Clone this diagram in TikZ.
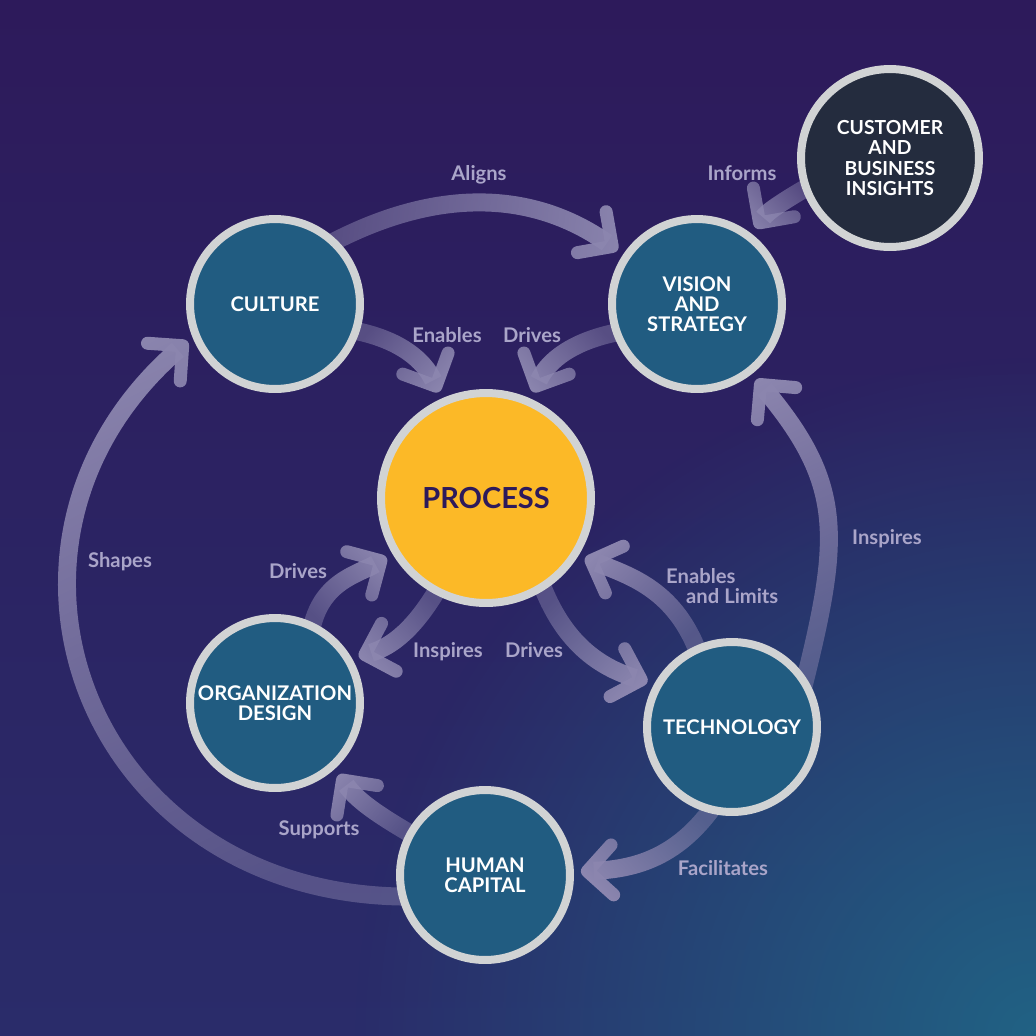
\documentclass[tikz,border=0pt]{standalone}
\usepackage{fontspec}
\setmainfont{Lato}
\usetikzlibrary{arrows.meta,fadings}
\definecolor{bgpurple}{RGB}{45,26,91}
\definecolor{bglow}{RGB}{42,44,106}
\definecolor{bgteal}{RGB}{33,98,132}
\definecolor{disc}{RGB}{33,92,129}
\definecolor{ring}{RGB}{209,211,212}
\definecolor{darkdisc}{RGB}{36,44,62}
\definecolor{gold}{RGB}{252,185,39}
\definecolor{flow}{RGB}{140,134,175}
\definecolor{flowtext}{RGB}{170,165,201}
\pgfdeclarelayer{bg}
\pgfdeclarelayer{links}
\pgfsetlayers{bg,links,main}
\tikzfading[name=tailfade, left color=transparent!55, right color=transparent!0]
\tikzfading[name=cornerfade, inner color=transparent!0, outer color=transparent!100]
\tikzset{
  topic/.style={shape=circle, minimum size=3.4cm, inner sep=0pt, fill=disc, draw=ring, line width=0.16cm, text=white, align=center, font=\bfseries\fontsize{11.5}{11.4}\selectfont},
  flowarrow/.style={draw=flow, line width=0.36cm, shorten <=-0.2cm, shorten >=0.14cm, path fading=tailfade, fading angle=#1, -{Straight Barb[length=0.5cm, width=1cm, line width=0.26cm, round]}},
  flowlabel/.style={text=flowtext, anchor=base, font=\bfseries\fontsize{11.5}{11.4}\selectfont}
}
\begin{document}
\begin{tikzpicture}[x=0.02cm, y=-0.02cm]
\useasboundingbox (0,0) rectangle (1036,1036);
\begin{pgfonlayer}{bg}
\shade[top color=bgpurple, bottom color=bglow] (0,0) rectangle (1036,1036);
\clip (0,0) rectangle (1036,1036);
\fill[bgteal, path fading=cornerfade] (1036,1036) circle[radius=680];
\end{pgfonlayer}
\node[topic] (culture) at (275,304) {CULTURE};
\node[topic] (vision) at (697,304) {VISION\\AND\\STRATEGY};
\node[topic, fill=darkdisc, minimum size=3.56cm, font=\bfseries\fontsize{11}{11.4}\selectfont] (insights) at (890,158) {CUSTOMER\\AND\\BUSINESS\\INSIGHTS};
\node[topic, fill=gold, minimum size=4.2cm, text=bgpurple, font=\bfseries\fontsize{16.5}{18}\selectfont] (process) at (486,498) {PROCESS};
\node[topic] (orgdesign) at (275,703) {ORGANIZATION\\DESIGN};
\node[topic] (technology) at (732,727) {TECHNOLOGY};
\node[topic] (humancap) at (485,875) {HUMAN\\CAPITAL};
\begin{pgfonlayer}{links}
\draw[flowarrow=-2] (culture.46) to[out=28, in=145] (vision.146);
\draw[flowarrow=-37] (culture.-18) to[out=-10, in=115] (process.114);
\draw[flowarrow=216] (vision.199) to[out=190, in=65] (process.66);
\draw[flowarrow=219] (insights.200) to[out=210, in=55] (vision.52);
\draw[flowarrow=111] (humancap.194) to[out=180, in=221, looseness=1.35] (culture.201);
\draw[flowarrow=99] (technology.34) to[out=76, in=-50, looseness=1.2] (vision.-52);
\draw[flowarrow=40] (orgdesign.65) to[out=80, in=210] (process.211);
\draw[flowarrow=217] (process.242) to[out=240, in=17] (orgdesign.30);
\draw[flowarrow=-40] (process.302) to[out=-70, in=163] (technology.151);
\draw[flowarrow=142] (technology.114) to[out=110, in=-21] (process.-32);
\draw[flowarrow=204] (technology.255) to[out=235, in=3] (humancap.2);
\draw[flowarrow=140] (humancap.151) to[out=150, in=-54] (orgdesign.-48);
\end{pgfonlayer}
\node[flowlabel] (alignslbl) at (479,180) {Aligns};
\node[flowlabel] (informslbl) at (742,180) {Informs};
\node[flowlabel] (enableslbl) at (447,342) {Enables};
\node[flowlabel] (drivestoplbl) at (532,342) {Drives};
\node[flowlabel] (shapeslbl) at (120,567) {Shapes};
\node[flowlabel] (inspiresrlbl) at (887,544) {Inspires};
\node[flowlabel] (driveslftlbl) at (298,578) {Drives};
\node[flowlabel, anchor=base west] (enablestechlbl) at (660,583) {Enables};
\node[flowlabel, anchor=base west] (limitslbl) at (680,603) {and Limits};
\node[flowlabel] (inspireslowlbl) at (448,657) {Inspires};
\node[flowlabel] (driveslowlbl) at (534,657) {Drives};
\node[flowlabel] (supportslbl) at (319,835) {Supports};
\node[flowlabel] (facilitateslbl) at (723,875) {Facilitates};
\end{tikzpicture}
\end{document}
